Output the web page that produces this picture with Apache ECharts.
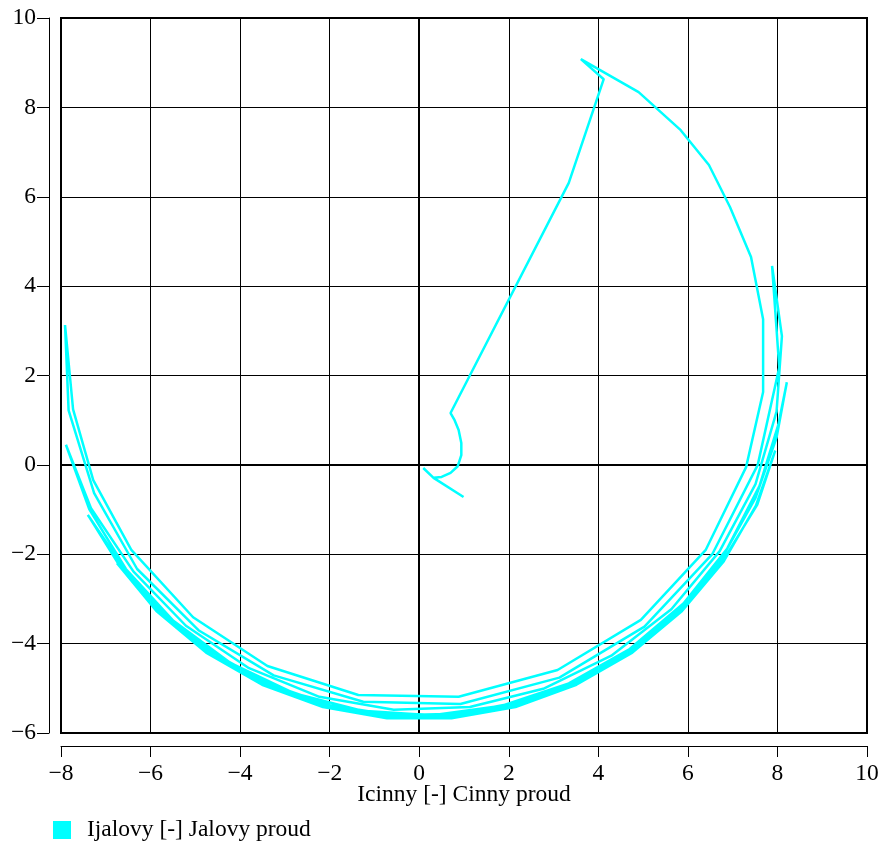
<!DOCTYPE html>
<html>
<head>
<meta charset="utf-8">
<script src="https://cdn.jsdelivr.net/npm/echarts@6/dist/echarts.min.js"></script>
<style>
html,body{margin:0;padding:0;background:#fff;}
#chart{width:885px;height:847px;}
</style>
</head>
<body>
<div id="chart"></div>
<script>
// Icinny (x) values along the trajectory
const icinny = [
  0.09, 0.32, 0.99, 0.32, 0.50, 0.70, 0.86, 0.94, 0.94, 0.88, 0.79, 0.70,
  3.34, 4.12, 3.61, 4.90, 5.84, 6.47, 6.94, 7.41, 7.68, 7.68, 7.30, 6.40,
  4.95, 3.09, 0.88, -1.36, -3.39, -5.05, -6.43, -7.28, -7.73, -7.91,
  -7.83, -7.26, -6.30, -4.93, -3.25, -1.25, 0.92, 3.13, 5.03, 6.55, 7.56, 8.04, 7.88,
  8.10, 7.98, 7.51, 6.71, 5.63, 4.29, 2.77, 1.13, -0.57, -2.23, -3.80, -5.21, -6.38, -7.33, -7.89,
  -7.37, -6.55, -5.49, -4.22, -2.80, -1.28, 0.29, 1.85, 3.34, 4.70, 5.90, 6.88, 7.60, 8.02, 8.21,
  7.98, 7.51, 6.81, 5.91, 4.83, 3.60, 2.27, 0.86, -0.57, -1.99, -3.34, -4.60, -5.71, -6.65, -7.40,
  -6.69, -5.74, -4.62, -3.36, -2.00, -0.58, 0.86, 2.28, 3.63, 4.86, 5.95, 6.86, 7.55, 7.95,
  7.52, 6.80, 5.87, 4.76, 3.51, 2.15, 0.72, -0.72, -2.15, -3.51, -4.76, -5.87, -6.75
];
// Ijalovy (y) values along the trajectory
const ijalovy = [
  -0.07, -0.29, -0.72, -0.29, -0.27, -0.18, -0.03, 0.22, 0.49, 0.78, 1.00, 1.16,
  6.31, 8.63, 9.08, 8.34, 7.49, 6.71, 5.77, 4.65, 3.26, 1.63, -0.05, -1.90,
  -3.47, -4.59, -5.19, -5.15, -4.50, -3.41, -1.90, -0.34, 1.24, 3.13,
  1.22, -0.63, -2.33, -3.70, -4.71, -5.30, -5.35, -4.76, -3.62, -1.99, 0.00, 2.18, 4.45,
  2.88, 1.19, -0.43, -1.93, -3.23, -4.27, -5.01, -5.42, -5.48, -5.19, -4.55, -3.60, -2.39, -0.97, 0.45,
  -0.99, -2.33, -3.49, -4.43, -5.11, -5.50, -5.60, -5.39, -4.89, -4.12, -3.10, -1.87, -0.47, 0.90, 1.85,
  0.61, -0.74, -2.00, -3.11, -4.05, -4.79, -5.30, -5.57, -5.60, -5.38, -4.91, -4.21, -3.31, -2.23, -1.12,
  -2.26, -3.35, -4.26, -4.95, -5.42, -5.65, -5.62, -5.35, -4.83, -4.09, -3.14, -2.02, -0.89, 0.32,
  -0.91, -2.16, -3.27, -4.20, -4.92, -5.42, -5.67, -5.67, -5.42, -4.92, -4.20, -3.27, -2.20
];
const xTicks = { min: -8, max: 10, step: 2 };
const yTicks = { min: -6, max: 10, step: 2 };
const seriesName = 'Ijalovy [-] Jalovy proud';
const xName = 'Icinny [-] Cinny proud';

const points = icinny.map((x, i) => [x, ijalovy[i]]);
const FONT = 'Liberation Serif';
const FS = 23.5;
const fmt = v => String(v).replace('-', '\u2212');

const chart = echarts.init(document.getElementById('chart'), null, { renderer: 'canvas' });
chart.setOption({
  backgroundColor: '#ffffff',
  animation: false,
  grid: {
    left: 61, right: 18, top: 18, bottom: 114,
    show: true, borderColor: '#000', borderWidth: 2, backgroundColor: 'transparent'
  },
  legend: {
    left: 53, top: 818, padding: 0,
    icon: 'rect', itemWidth: 18, itemHeight: 18, itemGap: 10,
    textStyle: { fontFamily: FONT, fontSize: FS, color: '#000', padding: [0, 0, 0, 11] },
    data: [seriesName]
  },
  xAxis: {
    type: 'value', min: xTicks.min, max: xTicks.max, interval: xTicks.step,
    offset: 13,
    name: xName, nameLocation: 'middle', nameGap: 37, nameMoveOverlap: false,
    nameTextStyle: { fontFamily: FONT, fontSize: FS, color: '#000' },
    axisLine: { show: true, onZero: false, lineStyle: { color: '#000', width: 1 } },
    axisTick: { show: true, length: 11, lineStyle: { color: '#000', width: 1 } },
    axisLabel: { margin: 16, fontFamily: FONT, fontSize: FS, color: '#000', formatter: fmt },
    splitLine: { show: true, lineStyle: { color: '#000', width: 1 } }
  },
  yAxis: {
    type: 'value', min: yTicks.min, max: yTicks.max, interval: yTicks.step,
    offset: 12,
    axisLine: { show: true, onZero: false, lineStyle: { color: '#000', width: 1 } },
    axisTick: { show: true, length: 12, lineStyle: { color: '#000', width: 1 } },
    axisLabel: { margin: 13, fontFamily: FONT, fontSize: FS, color: '#000', formatter: fmt, padding: [4, 0, 0, 0] },
    splitLine: { show: true, lineStyle: { color: '#000', width: 1 } }
  },
  series: [{
    name: seriesName,
    type: 'line',
    data: points,
    showSymbol: false,
    symbol: 'none',
    smooth: false,
    color: '#00ffff',
    lineStyle: { color: '#00ffff', width: 2.5 },
    markLine: {
      silent: true, symbol: 'none', label: { show: false },
      lineStyle: { color: '#000', width: 2, type: 'solid' },
      data: [{ xAxis: 0 }, { yAxis: 0 }],
      z: 1
    }
  }]
});
</script>
</body>
</html>
